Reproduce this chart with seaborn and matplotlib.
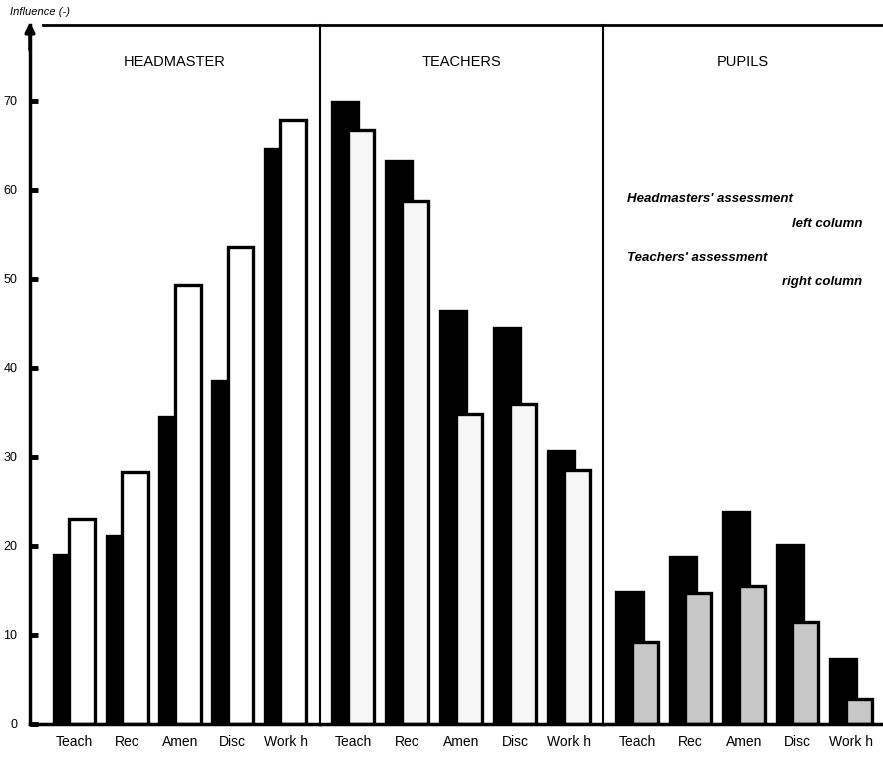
import numpy as np
import pandas as pd
import seaborn as sns
import matplotlib.pyplot as plt

# values (influence, %)
categories = ["Teach", "Rec", "Amen", "Disc", "Work h"]
panels = ["HEADMASTER", "TEACHERS", "PUPILS"]
assessors = ["Headmasters' assessment", "Teachers' assessment"]

headmaster_by_head = [19.0, 21.1, 34.5, 38.5, 64.6]
headmaster_by_teach = [23.0, 28.3, 49.3, 53.6, 67.8]
teachers_by_head = [69.9, 63.2, 46.4, 44.5, 30.7]
teachers_by_teach = [66.7, 58.7, 34.8, 35.9, 28.5]
pupils_by_head = [14.8, 18.8, 23.8, 20.1, 7.3]
pupils_by_teach = [9.2, 14.7, 15.5, 11.5, 2.8]

yticks = [0, 10, 20, 30, 40, 50, 60, 70]

sns.set_style("white")
plt.rcParams["font.family"] = ["Liberation Sans", "DejaVu Sans"]
plt.rcParams["text.color"] = "black"
plt.rcParams["axes.edgecolor"] = "black"
plt.rcParams["xtick.color"] = "black"
plt.rcParams["ytick.color"] = "black"

W, H = 883, 757
fig = plt.figure(figsize=(W / 100, H / 100), dpi=100)

# panel extents in pixels: (left, right), and x-limits in category units
panel_px = [(30, 320), (320, 603), (603, 883)]
panel_xlim = [(-0.84, 4.65), (-0.61, 4.63), (-0.64, 4.60)]
right_fill = ["white", "#f6f6f6", "#c8c8c8"]
data_pairs = [
    (headmaster_by_head, headmaster_by_teach),
    (teachers_by_head, teachers_by_teach),
    (pupils_by_head, pupils_by_teach),
]
top_px, bottom_px = 25, 724
ymax = 78.5

axes = []
for i, panel in enumerate(panels):
    l, r = panel_px[i]
    ax = fig.add_axes([l / W, (H - bottom_px) / H, (r - l) / W, (bottom_px - top_px) / H])
    left_vals, right_vals = data_pairs[i]
    df = pd.DataFrame({
        "category": categories * 2,
        "assessor": [assessors[0]] * 5 + [assessors[1]] * 5,
        "value": left_vals + right_vals,
    })
    sns.barplot(data=df, x="category", y="value", hue="assessor",
                palette={assessors[0]: "black", assessors[1]: right_fill[i]},
                dodge=True, width=0.58, edgecolor="black", linewidth=2.4,
                legend=False, ax=ax)
    # widen bars so the right column overlaps the black one
    for p in ax.patches:
        p.set_x(p.get_x() - 0.1)
        p.set_width(p.get_width() + 0.2)

    ax.set_xlim(*panel_xlim[i])
    ax.set_ylim(0, ymax)
    ax.set_xlabel("")
    ax.set_ylabel("")
    ax.tick_params(axis="x", length=0, pad=8, labelsize=10)
    ax.text(np.mean(ax.get_xlim()), 74.4, panel, ha="center", va="center",
            fontsize=10.5)

    ax.spines["top"].set_linewidth(2)
    ax.spines["bottom"].set_linewidth(2.5)
    ax.spines["right"].set_visible(False)
    if i == 0:
        ax.spines["left"].set_linewidth(2.5)
        ax.set_yticks(yticks)
        ax.tick_params(axis="y", left=True, direction="in", length=6,
                       width=3.5, pad=9, labelsize=9)
        ax.spines["top"].set_bounds(-0.6, panel_xlim[0][1])
        ax.annotate("", xy=(0, 1.008), xytext=(0, 0.96),
                    xycoords="axes fraction",
                    arrowprops=dict(arrowstyle="-|>", lw=2.5, color="black",
                                    mutation_scale=14))
    else:
        ax.spines["left"].set_linewidth(1.5)
        ax.set_yticks([])
    axes.append(ax)

fig.text(10 / W, 1 - 12 / H, "Influence (-)", style="italic", fontsize=8,
         ha="left", va="center")

# legend notes inside the pupils panel
note_kw = dict(style="italic", fontsize=9.5, weight="semibold", va="center")
fig.text(627 / W, 1 - 199 / H, "Headmasters' assessment", ha="left", **note_kw)
fig.text(862 / W, 1 - 224 / H, "left column", ha="right", **note_kw)
fig.text(627 / W, 1 - 258 / H, "Teachers' assessment", ha="left", **note_kw)
fig.text(862 / W, 1 - 282 / H, "right column", ha="right", **note_kw)

fig.savefig("out.png", dpi=100)
